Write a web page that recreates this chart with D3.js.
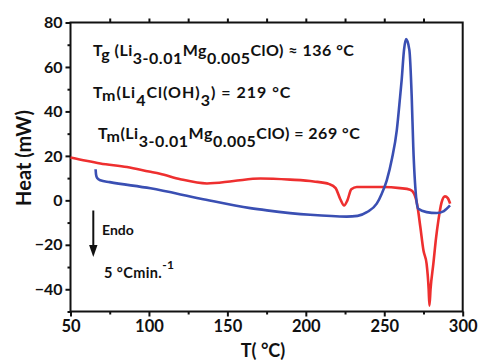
<!DOCTYPE html>
<html>
<head>
<meta charset="utf-8">
<script src="https://cdn.jsdelivr.net/npm/d3@7"></script>
<style>
  html, body { margin: 0; padding: 0; background: #fff; }
  svg { display: block; }
  text { font-family: Lato, "Open Sans", sans-serif; font-weight: 700; fill: #111; }
</style>
</head>
<body>
<svg id="chart" width="480" height="360"></svg>
<script>
// DSC traces: temperature (°C) and heat flow (mW)
const redTemp = [50, 60, 69, 86, 100, 107, 120, 137, 154, 171, 190, 205, 215, 219, 222, 224.4, 226.5, 229, 232.5, 249.5, 260, 266.5, 269, 271, 273, 275, 277, 278.3, 278.8, 279.5, 281.3, 283, 284.5, 286.5, 288.7, 290.5, 292];
const redHeat = [19.3, 17.8, 16.6, 15.0, 13.0, 12.0, 9.5, 7.6, 8.7, 9.8, 9.3, 8.5, 7.3, 5.5, 0.5, -2.3, 0, 5.0, 6.0, 6.0, 5.5, 4.8, 3.0, -2, -12, -22.6, -28.6, -40, -47.4, -40, -28.5, -17, -9, -1, 1.8, 1, -1.5];

const blueTemp = [66, 66.3, 67, 69, 75, 101, 133, 164.6, 175.2, 202.8, 226, 233, 238.9, 245.2, 248.4, 251.6, 255, 258, 260.1, 261.1, 262.6, 263.9, 266, 267.5, 268.5, 270.3, 271.7, 277, 283.4, 288, 291.9];
const blueHeat = [14.0, 11.5, 10, 9.0, 8.2, 5.4, 0.75, -3.5, -4.5, -6.5, -7.3, -7.0, -5.3, -1.5, 3, 9.0, 19, 31.6, 46.6, 54.2, 67.7, 72.5, 67.7, 46.6, 24, 1.5, -3.8, -5.3, -5.7, -4.8, -2.3];

const xMajorTicks = [50, 100, 150, 200, 250, 300];
const xMinorTicks = [75, 125, 175, 225, 275];
const yMajorTicks = [80, 60, 40, 20, 0, -20, -40];
const yMinorTicks = [70, 50, 30, 10, -10, -30, -50];

const redColor = "#ee2f2f";
const blueColor = "#3a4fb3";

const svg = d3.select("#chart");
const plotLeft = 70.5, plotRight = 462.7, plotTop = 22.5, plotBottom = 311.5;

const x = d3.scaleLinear().domain([50, 300]).range([plotLeft, plotRight]);
const y = d3.scaleLinear().domain([-50, 80]).range([plotBottom, plotTop]);

// axes
const gAxes = svg.append("g");

function styleAxis(g) {
  g.select(".domain").remove();
  g.selectAll("line").attr("stroke", "#111").attr("stroke-width", 2);
  g.selectAll("text").attr("fill", "#111").style("font-family", "Lato, sans-serif").style("font-weight", 700);
}

gAxes.append("g").attr("transform", `translate(0,${plotBottom})`)
  .call(d3.axisBottom(x).tickValues(xMajorTicks).tickSize(5).tickPadding(4).tickFormat(d3.format("d")))
  .call(g => { styleAxis(g); g.selectAll("text").style("font-size", "16.5px"); });

gAxes.append("g").attr("transform", `translate(0,${plotBottom})`)
  .call(d3.axisBottom(x).tickValues(xMinorTicks).tickSize(3).tickFormat(""))
  .call(styleAxis);

gAxes.append("g").attr("transform", `translate(0,${plotTop})`)
  .call(d3.axisTop(x).tickValues(xMinorTicks.concat([100, 150, 200, 250])).tickSize(4).tickFormat(""))
  .call(styleAxis);

gAxes.append("g").attr("transform", `translate(${plotLeft},0)`)
  .call(d3.axisLeft(y).tickValues(yMajorTicks).tickSize(5).tickPadding(3).tickFormat(d3.format("d")))
  .call(g => { styleAxis(g); g.selectAll("text").style("font-size", "16px"); });

gAxes.append("g").attr("transform", `translate(${plotLeft},0)`)
  .call(d3.axisLeft(y).tickValues(yMinorTicks).tickSize(3).tickFormat(""))
  .call(styleAxis);

// frame
svg.append("rect")
  .attr("x", plotLeft).attr("y", plotTop)
  .attr("width", plotRight - plotLeft).attr("height", plotBottom - plotTop)
  .attr("fill", "none").attr("stroke", "#111").attr("stroke-width", 2);

// traces
const line = d3.line().x(d => x(d[0])).y(d => y(d[1])).curve(d3.curveMonotoneX);

svg.append("path")
  .datum(d3.zip(redTemp, redHeat))
  .attr("d", line)
  .attr("fill", "none").attr("stroke", redColor).attr("stroke-width", 2.6)
  .attr("stroke-linejoin", "round");

svg.append("path")
  .datum(d3.zip(blueTemp, blueHeat))
  .attr("d", line)
  .attr("fill", "none").attr("stroke", blueColor).attr("stroke-width", 2.6)
  .attr("stroke-linejoin", "round");

// axis titles
svg.append("text")
  .attr("x", 263).attr("y", 357)
  .attr("text-anchor", "middle")
  .style("font-size", "18px")
  .text("T( °C)");

svg.append("text")
  .attr("transform", "translate(31,158) rotate(-90)")
  .attr("text-anchor", "middle")
  .style("font-size", "20px")
  .text("Heat (mW)");

// annotations: segments of [text, baseline shift]
const notes = [
  { x: 93, y: 55.5, spacing: 0.5, parts: [["T", 0], ["g", 4], [" (Li", 0], ["3-0.01", 8], ["Mg", 0], ["0.005", 8], ["ClO)", 0], [" ≈ 136 °C", 0]] },
  { x: 93, y: 97.5, spacing: 1.0, parts: [["T", 0], ["m", 3], ["(Li", 0], ["4", 8], ["Cl(OH)", 0], ["3", 8], [") = 219 °C", 0]] },
  { x: 98, y: 138.5, spacing: 0.5, parts: [["T", 0], ["m", 3], ["(Li", 0], ["3-0.01", 8], ["Mg", 0], ["0.005", 8], ["ClO) = 269 °C", 0]] }
];

notes.forEach(n => {
  const t = svg.append("text").attr("x", n.x).attr("y", n.y)
    .style("font-size", "16px").style("letter-spacing", n.spacing + "px");
  let prev = 0;
  n.parts.forEach(([s, shift]) => {
    t.append("tspan").attr("dy", shift - prev).text(s);
    prev = shift;
  });
});

// endotherm direction and heating rate
const arrowX = 93.3, arrowTop = 210.5, arrowTip = 257;
svg.append("line")
  .attr("x1", arrowX).attr("y1", arrowTop)
  .attr("x2", arrowX).attr("y2", arrowTip - 8)
  .attr("stroke", "#111").attr("stroke-width", 2);
svg.append("path")
  .attr("d", `M${arrowX - 4.2},${arrowTip - 12} L${arrowX + 4.2},${arrowTip - 12} L${arrowX},${arrowTip} Z`)
  .attr("fill", "#111");

svg.append("text").attr("x", 102).attr("y", 235).style("font-size", "14px").text("Endo");

const rate = svg.append("text").attr("x", 104).attr("y", 278).style("font-size", "14.5px").style("letter-spacing", "0.4px");
rate.append("tspan").text("5 °Cmin.");
rate.append("tspan").attr("dy", -9).style("font-size", "12px").text("-1");
</script>
</body>
</html>
